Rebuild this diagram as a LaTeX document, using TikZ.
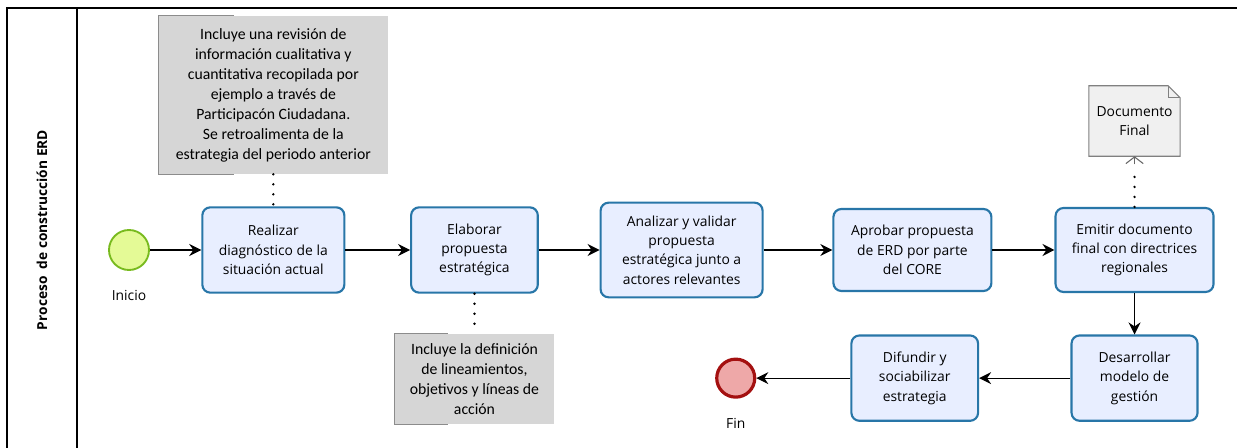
\documentclass[tikz,border=0pt]{standalone}
\usepackage{fontspec}
\setmainfont{Open Sans}
\newfontfamily\notefont{Carlito}
\usetikzlibrary{positioning}
\usetikzlibrary{arrows.meta}
\usetikzlibrary{calc}

\definecolor{taskfill}{RGB}{232,238,255}
\definecolor{taskline}{RGB}{40,118,168}
\definecolor{startfill}{RGB}{228,250,150}
\definecolor{startline}{RGB}{120,186,30}
\definecolor{endfill}{RGB}{238,168,168}
\definecolor{endline}{RGB}{164,16,16}
\definecolor{notefill}{RGB}{214,214,214}
\definecolor{docfill}{RGB}{240,240,240}

\begin{document}
\begin{tikzpicture}[x=0.75pt, y=-0.75pt,
    task/.style={draw=taskline, fill=taskfill, line width=1.6pt, rounded corners=6pt,
    align=center, inner sep=1pt, font=\fontsize{10.4}{14.5}\selectfont},
    startev/.style={circle, draw=startline, fill=startfill, line width=1.4pt,
    minimum size=30pt, inner sep=0pt},
    endev/.style={circle, draw=endline, fill=endfill, line width=2.4pt,
    minimum size=28.5pt, inner sep=0pt},
    evlabel/.style={font=\fontsize{10.4}{12}\selectfont, label distance=11pt},
    note/.style={fill=notefill, align=center, inner sep=1pt,
    font=\notefont\fontsize{11.8}{15}\selectfont},
    bracket/.style={draw=black!45, line width=0.8pt},
    docbox/.style={align=center, inner sep=1pt, minimum width=68pt,
    minimum height=52.5pt, font=\fontsize{10.4}{14.5}\selectfont},
    flow/.style={line width=0.9pt, -{Stealth[length=9pt,width=9pt,inset=3pt]}},
    assoc/.style={line width=2pt, line cap=round, dash pattern=on 0pt off 7.5pt}]
    \useasboundingbox (0,0) rectangle (1237,448);

    % pool frame
    \draw[line width=1.1pt] (1237,8) -- (7,8) -- (7,448);
    \draw[line width=1.1pt] (77,8) -- (77,448);
    \node[rotate=90, font=\bfseries\fontsize{10.3}{12}\selectfont] (lane) at (42,230)
    {Proceso\ \ de construcción ERD};

    % upper row
    \node[startev, label={[evlabel]below:Inicio}] (inicio) at (129,250) {};
    \node[task, minimum width=106.5pt, minimum height=64pt] (diag) [right=38.5pt of inicio]
    {Realizar\\diagnóstico de la\\situación actual};
    \node[task, minimum width=95pt, minimum height=64pt] (elaborar) [right=48.5pt of diag]
    {Elaborar\\propuesta\\estratégica};
    \node[task, minimum width=121.5pt, minimum height=71pt] (validar) [right=45.5pt of elaborar]
    {Analizar y validar\\propuesta\\estratégica junto a\\actores relevantes};
    \node[task, minimum width=118.5pt, minimum height=61.5pt] (aprobar) [right=51.5pt of validar]
    {Aprobar propuesta\\de ERD por parte\\del CORE};
    \node[task, minimum width=118.5pt, minimum height=63pt] (emitir) [right=46.5pt of aprobar]
    {Emitir documento\\final con directrices\\regionales};

    % lower row
    \node[task, minimum width=94.5pt, minimum height=64pt] (gestion) [below=31pt of emitir]
    {Desarrollar\\modelo de\\gestión};
    \node[task, minimum width=95pt, minimum height=64pt] (difundir) [left=68.5pt of gestion]
    {Difundir y\\sociabilizar\\estrategia};
    \node[endev, label={[evlabel]below:Fin}] (fin) [left=70.5pt of difundir] {};

    % annotations
    \node[note, minimum width=172.5pt, minimum height=118.5pt] (nota1) [above=24pt of diag]
    {Incluye una revisión de\\información cualitativa y\\cuantitativa recopilada por\\ejemplo a través de\\Participacón Ciudadana.\\Se retroalimenta de la\\estrategia del periodo anterior};
    \node[note, minimum width=120pt, minimum height=67.5pt] (nota2) [below=30pt of elaborar]
    {Incluye la definición\\de lineamientos,\\objetivos y líneas de\\acción};
    \draw[bracket] ($(nota1.north west)+(57pt,0)$) -- (nota1.north west)
    -- (nota1.south west) -- ++(57pt,0);
    \draw[bracket] ($(nota2.north west)+(40pt,0)$) -- (nota2.north west)
    -- (nota2.south west) -- ++(40pt,0);

    % document
    \node[docbox] (documento) [above=38pt of emitir] {Documento\\Final};
    \draw[draw=black!50, fill=docfill, line width=0.8pt] (documento.north west)
    -- ($(documento.north east)+(-9pt,0)$) -- ($(documento.north east)+(0,-9pt)$)
    -- (documento.south east) -- (documento.south west) -- cycle;
    \draw[draw=black!50, line width=0.8pt] ($(documento.north east)+(-9pt,0)$)
    -- ($(documento.north east)+(-9pt,-9pt)$) -- ($(documento.north east)+(0,-9pt)$);
    \node[docbox] at (documento) {Documento\\Final};

\draw[flow] (inicio) -- (diag);
\draw[flow] (diag) -- (elaborar);
\draw[flow] (elaborar) -- (validar);
\draw[flow] (validar) -- (aprobar);
\draw[flow] (aprobar) -- (emitir);
\draw[flow] (emitir) -- (gestion);
\draw[flow] (gestion) -- (difundir);
\draw[flow] (difundir) -- (fin);
\draw[assoc] (nota1.south) -- (diag.north);
\draw[assoc] (elaborar.south) -- (nota2.north);
\draw[assoc] (emitir.north) -- ($(documento.south)+(0,-12pt)$);
\draw[draw=black!60, line width=0.8pt, -{Straight Barb[length=5pt,width=13pt]}]
($(documento.south)+(0,-6pt)$) -- (documento.south);
\end{tikzpicture}
\end{document}
